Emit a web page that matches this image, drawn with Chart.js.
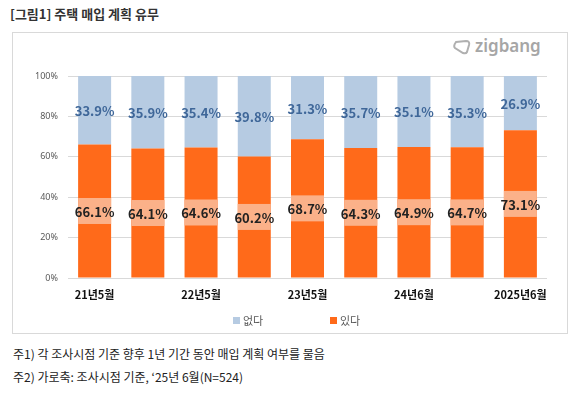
<!DOCTYPE html>
<html>
<head>
<meta charset="utf-8">
<script src="https://cdn.jsdelivr.net/npm/chart.js@4"></script>
<style>
  body { margin: 0; width: 580px; height: 398px; background: #fff; position: relative; overflow: hidden;
         font-family: "Noto Sans CJK KR", "Noto Sans", sans-serif; }
  #title { position: absolute; left: 10px; top: 4px; font-size: 13px; font-weight: bold; color: #333; }
  #box { position: absolute; left: 12px; top: 32px; width: 554px; height: 300px; border: 1px solid #d9d9d9; }
  #logo { position: absolute; left: 452px; top: 34px; color: #a6a6a6; font-size: 17px; font-weight: 600;
          font-family: "Noto Sans", sans-serif; }
  #logo svg { vertical-align: -3px; margin-right: 3px; }
  #wrap { position: absolute; left: 12px; top: 32px; width: 555px; height: 301px; }
  .note { position: absolute; left: 13px; font-size: 12px; color: #222; }
</style>
</head>
<body>
<div id="title">[그림1] 주택 매입 계획 유무</div>
<div id="box"></div>
<div id="logo"><svg width="20" height="16" viewBox="0 0 20 16"><path d="M4 3 L14 2 Q18 2 17 6 L15 13 Q14 15 11 14 L3 9 Q1 7 4 3 Z" fill="none" stroke="#b0b0b0" stroke-width="2"/></svg>zigbang</div>
<div id="wrap"><canvas id="chart"></canvas></div>
<div class="note" style="top:345px">주1) 각 조사시점 기준 향후 1년 기간 동안 매입 계획 여부를 물음</div>
<div class="note" style="top:368px">주2) 가로축: 조사시점 기준, ‘25년 6월(N=524)</div>
<script>
const categories = ['21년5월', '21년11월', '22년5월', '22년11월', '23년5월', '23년11월', '24년6월', '24년12월', '2025년6월'];
const yesValues = [66.1, 64.1, 64.6, 60.2, 68.7, 64.3, 64.9, 64.7, 73.1];
const noValues = [33.9, 35.9, 35.4, 39.8, 31.3, 35.7, 35.1, 35.3, 26.9];
const yTicks = [0, 20, 40, 60, 80, 100];

const colors = {
    orange: '#ff6a1a',
    orangeLight: '#fbb189',
    blue: '#b6cbe2',
    blueText: '#3f6799'
};

// value labels on the bars, plus a legend drawn below the axis
const barLabels = {
    id: 'barLabels',
    afterDatasetsDraw(chart) {
        const ctx = chart.ctx;
        ctx.save();
        ctx.font = 'bold 13px "Noto Sans CJK KR", sans-serif';
        ctx.textAlign = 'center';
        ctx.textBaseline = 'middle';
        chart.data.datasets.forEach((ds, i) => {
            const meta = chart.getDatasetMeta(i);
            meta.data.forEach((bar, j) => {
                const cy = (bar.y + bar.base) / 2;
                if (i === 0) {
                    ctx.fillStyle = colors.orangeLight;
                    ctx.fillRect(bar.x - bar.width / 2, cy - 13, bar.width, 26);
                    ctx.fillStyle = '#222';
                } else {
                    ctx.fillStyle = colors.blueText;
                }
                ctx.fillText(ds.data[j].toFixed(1) + '%', bar.x, cy + 1);
            });
        });

        // legend: 없다 then 있다
        const ly = chart.chartArea.bottom + 43;
        const items = [chart.data.datasets[1], chart.data.datasets[0]];
        let lx = 221;
        ctx.font = '11px "Noto Sans CJK KR", sans-serif';
        ctx.textAlign = 'left';
        items.forEach(ds => {
            ctx.fillStyle = ds.backgroundColor;
            ctx.fillRect(lx, ly - 4, 7, 7);
            ctx.fillStyle = '#595959';
            ctx.fillText(ds.label, lx + 10, ly);
            lx += 97;
        });
        ctx.restore();
    }
};

new Chart(document.getElementById('chart').getContext('2d'), {
    type: 'bar',
    data: {
        labels: categories,
        datasets: [{
            label: '있다',
            data: yesValues,
            backgroundColor: colors.orange
        }, {
            label: '없다',
            data: noValues,
            backgroundColor: colors.blue
        }]
    },
    options: {
        responsive: true,
        maintainAspectRatio: false,
        animation: false,
        layout: { padding: { top: 44, right: 20, bottom: 25 } },
        datasets: { bar: { categoryPercentage: 1, barPercentage: 0.62 } },
        scales: {
            x: {
                stacked: true,
                afterFit: (s) => { s.height = 30; },
                grid: { display: false, drawTicks: false },
                border: { display: false },
                ticks: {
                    autoSkip: false,
                    maxRotation: 0,
                    padding: 10,
                    color: '#111',
                    font: { size: 11, weight: 'bold', family: '"Noto Sans CJK KR", sans-serif' },
                    callback: (v, i) => i % 2 === 0 ? categories[i] : ''
                }
            },
            y: {
                stacked: true,
                min: 0,
                max: 100,
                afterFit: (s) => { s.width = 56; },
                afterBuildTicks: (s) => { s.ticks = yTicks.map(v => ({ value: v })); },
                grid: { color: '#d9d9d9', drawTicks: false },
                border: { display: false },
                ticks: {
                    padding: 10,
                    color: '#595959',
                    font: { size: 9, family: '"Noto Sans", sans-serif' },
                    callback: (v) => v + '%'
                }
            }
        },
        plugins: {
            legend: { display: false },
            tooltip: { enabled: false }
        }
    },
    plugins: [barLabels]
});
</script>
</body>
</html>
